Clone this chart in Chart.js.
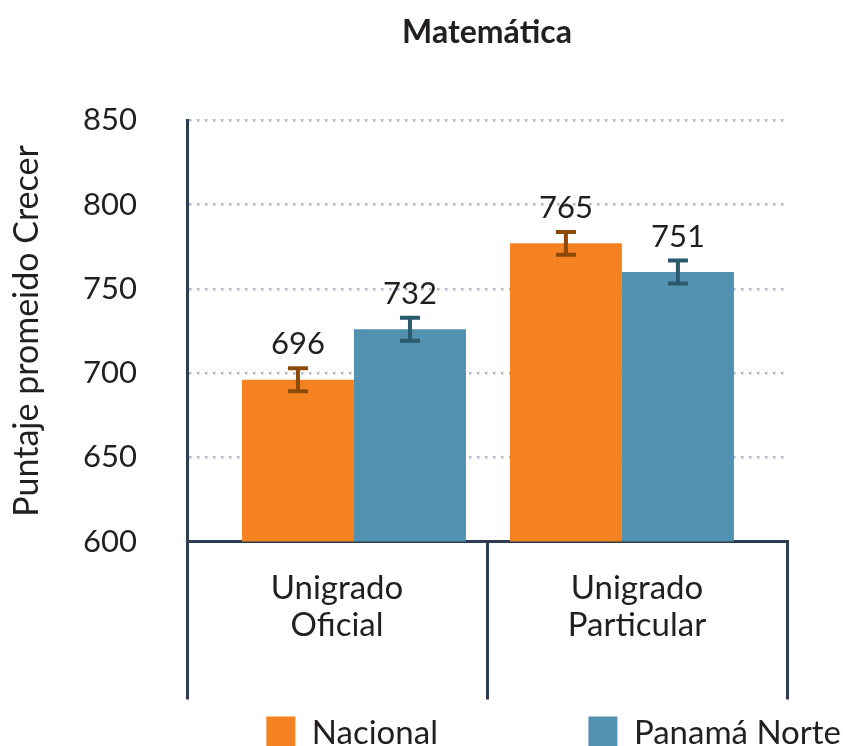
<!DOCTYPE html>
<html lang="es">
<head>
  <meta charset="UTF-8">
  <title>Matemática</title>
  <style>
    body {
      margin: 0;
      background: #ffffff;
    }

    .chart-box {
      position: relative;
      width: 843px;
      height: 746px;
    }
  </style>
</head>
<body>
  <div class="chart-box">
    <canvas id="chart"></canvas>
  </div>

  <script src="https://cdn.jsdelivr.net/npm/chart.js"></script>
  <script>
    const categories = [["Unigrado", "Oficial"], ["Unigrado", "Particular"]];
    const seriesNames = ["Nacional", "Panamá Norte"];

    // bar heights as drawn in the picture
    const nacional = [696, 777];
    const panamaNorte = [726, 760];

    // numbers printed above each bar
    const nacionalLabels = ["696", "765"];
    const panamaNorteLabels = ["732", "751"];

    // half length of the error bars
    const nacionalError = [6.8, 6.8];
    const panamaNorteError = [6.8, 6.8];

    const yTicks = [600, 650, 700, 750, 800, 850];

    const dark = "#2c3e50";
    const textColor = "#231f20";

    Chart.defaults.font.family = "Lato";
    Chart.defaults.color = textColor;

    // error bars + value labels on top of each bar
    const errorBars = {
      id: "errorBars",
      afterDatasetsDraw(chart) {
        const ctx = chart.ctx;
        const y = chart.scales.y;
        chart.data.datasets.forEach((ds, i) => {
          const meta = chart.getDatasetMeta(i);
          meta.data.forEach((bar, j) => {
            const v = ds.data[j].y;
            const top = y.getPixelForValue(v + ds.errors[j]);
            const bottom = y.getPixelForValue(v - ds.errors[j]);
            ctx.save();
            ctx.strokeStyle = ds.errorColor;
            ctx.lineWidth = 4;
            ctx.beginPath();
            ctx.moveTo(bar.x, top);
            ctx.lineTo(bar.x, bottom);
            ctx.moveTo(bar.x - 10, top);
            ctx.lineTo(bar.x + 10, top);
            ctx.moveTo(bar.x - 10, bottom);
            ctx.lineTo(bar.x + 10, bottom);
            ctx.stroke();

            ctx.fillStyle = textColor;
            ctx.font = "31px Lato";
            ctx.textAlign = "center";
            ctx.textBaseline = "alphabetic";
            ctx.fillText(ds.valueLabels[j], bar.x, top - 14);
            ctx.restore();
          });
        });
      }
    };

    const toPoints = (values) => values.map((v, i) => ({ x: i, y: v }));

    new Chart(document.getElementById("chart"), {
      type: "bar",
      data: {
        datasets: [
          {
            label: seriesNames[0],
            data: toPoints(nacional),
            backgroundColor: "#f58220",
            errors: nacionalError,
            valueLabels: nacionalLabels,
            errorColor: "#8c4a08"
          },
          {
            label: seriesNames[1],
            data: toPoints(panamaNorte),
            backgroundColor: "#5391b0",
            errors: panamaNorteError,
            valueLabels: panamaNorteLabels,
            errorColor: "#2b5a6e"
          }
        ]
      },
      options: {
        responsive: true,
        maintainAspectRatio: false,
        animation: false,
        categoryPercentage: 0.836,
        barPercentage: 1,
        layout: {
          padding: { left: 7, right: 0, top: 0, bottom: -13.5 }
        },
        scales: {
          // hidden axis that places the bar groups
          x: {
            type: "linear",
            display: false,
            offset: false,
            min: -0.623,
            max: 1.616,
            afterBuildTicks: (axis) => {
              axis.ticks = categories.map((c, i) => ({ value: i }));
            }
          },
          // visible category axis: labels and the long separators
          xCat: {
            type: "category",
            position: "bottom",
            labels: categories,
            offset: true,
            grid: {
              offset: true,
              drawOnChartArea: false,
              drawTicks: true,
              tickLength: 158,
              color: dark,
              lineWidth: 3
            },
            border: { display: true, color: dark, width: 3 },
            ticks: {
              color: textColor,
              padding: -129,
              maxRotation: 0,
              font: { size: 33, lineHeight: 1.1 }
            },
            afterFit: (scale) => {
              scale.height = 173;
            }
          },
          y: {
            min: yTicks[0],
            max: yTicks[yTicks.length - 1],
            ticks: {
              stepSize: yTicks[1] - yTicks[0],
              color: textColor,
              padding: 50,
              font: { size: 31 }
            },
            grid: {
              drawTicks: false,
              lineWidth: 2.5,
              color: (c) => (c.tick && c.tick.value === yTicks[0] ? "rgba(0,0,0,0)" : "#aeb6cd")
            },
            border: { display: true, color: dark, width: 3, dash: [2.5, 5.5] },
            title: {
              display: true,
              text: "Puntaje promeido Crecer",
              color: textColor,
              padding: 0,
              font: { size: 34 }
            },
            afterFit: (scale) => {
              scale.width = 180;
            }
          },
          // empty right axis, keeps room on the right of the plot
          y2: {
            position: "right",
            grid: { display: false },
            ticks: { display: false },
            border: { display: false },
            afterFit: (scale) => {
              scale.width = 56;
            }
          }
        },
        plugins: {
          title: {
            display: true,
            text: "Matemática",
            fullSize: false,
            color: textColor,
            font: { size: 32, weight: "bold" },
            padding: { top: 13, bottom: 69 }
          },
          legend: {
            position: "bottom",
            align: "end",
            labels: {
              boxWidth: 29,
              boxHeight: 33,
              padding: 2,
              color: textColor,
              font: { size: 33 },
              generateLabels: (chart) => {
                const items = Chart.defaults.plugins.legend.labels.generateLabels(chart);
                // widen the first entry so it starts further left
                items[0].text = items[0].text + "\u2003".repeat(6);
                return items;
              }
            }
          },
          tooltip: { enabled: false }
        }
      },
      plugins: [errorBars]
    });
  </script>
</body>
</html>
